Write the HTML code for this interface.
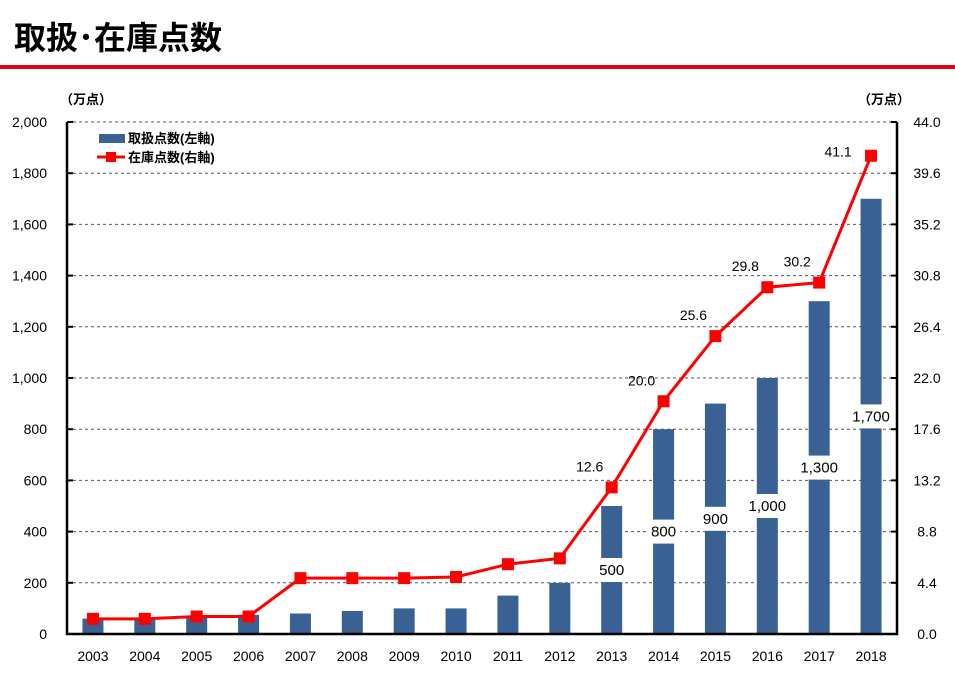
<!DOCTYPE html>
<html><head><meta charset="utf-8"><style>
body{margin:0;background:#fff;}
svg text{font-family:"Liberation Sans","Noto Sans CJK JP",sans-serif;}
</style></head><body>
<svg id="c" width="955" height="682">
<text x="14" y="49" font-size="32" font-weight="bold" fill="#000">取扱･在庫点数</text>
<rect x="0" y="65" width="955" height="4" fill="#e60012"/>
<text x="60" y="104" font-size="13" font-weight="bold">（万点）</text>
<text x="858" y="104" font-size="13" font-weight="bold">（万点）</text>
<g id="grid"></g><g id="bars"></g><g id="line"></g><g id="axes"></g>
<g>
<rect x="99" y="134" width="26" height="9" fill="#3a6193"/>
<text x="128" y="143" font-size="13" font-weight="bold">取扱点数(左軸)</text>
<line x1="97" y1="157" x2="125" y2="157" stroke="#f00" stroke-width="3"/>
<rect x="106" y="152" width="10" height="10" fill="#f00"/>
<text x="128" y="162" font-size="13" font-weight="bold">在庫点数(右軸)</text>
</g>
</svg>
<script>
const years=["2003","2004","2005","2006","2007","2008","2009","2010","2011","2012","2013","2014","2015","2016","2017","2018"];
const handled=[60,60,65,75,80,90,100,100,150,200,500,800,900,1000,1300,1700];
const handledLabels=["","","","","","","","","","","500","800","900","1,000","1,300","1,700"];
const stock=[1.3,1.3,1.5,1.5,4.8,4.8,4.8,4.9,6.0,6.5,12.6,20.0,25.6,29.8,30.2,41.1];
const stockLabels=["","","","","","","","","","","12.6","20.0","25.6","29.8","30.2","41.1"];
const leftTicks=[0,200,400,600,800,1000,1200,1400,1600,1800,2000];
const rightTicks=["0.0","4.4","8.8","13.2","17.6","22.0","26.4","30.8","35.2","39.6","44.0"];
const NS="http://www.w3.org/2000/svg";
const X0=67,X1=897,Y0=634,Y1=122;
const step=(X1-X0)/years.length;
const xc=i=>X0+step*(i+0.5);
const yL=v=>Y0-(v/2000)*(Y0-Y1);
const yR=v=>Y0-(v/44)*(Y0-Y1);
function mk(p,t,a){const e=document.createElementNS(NS,t);for(const k in a)e.setAttribute(k,a[k]);document.getElementById(p).appendChild(e);return e;}
leftTicks.forEach((t,i)=>{
 const y=yL(t);
 if(i>0){const g=mk("grid","line",{x1:X0,x2:X1,y1:y,y2:y,stroke:"#555","stroke-dasharray":"3,3","stroke-width":1});
 
 }
 const a=mk("axes","line",{x1:X0,x2:X0+6,y1:y,y2:y,stroke:"#000","stroke-width":2});
 
 
 const b=mk("axes","line",{x1:X1-6,x2:X1,y1:y,y2:y,stroke:"#000","stroke-width":2});
 
 
 const l=mk("axes","text",{x:47,y:y+5,"font-size":14,"text-anchor":"end"});
 l.textContent=t.toLocaleString("en-US");
 
 
 const r=mk("axes","text",{x:927,y:y+5,"font-size":14,"text-anchor":"middle"});
 r.textContent=rightTicks[i];
 
 
});
const ax=mk("axes","path",{d:`M${X0},${Y1} V${Y0} H${X1} V${Y1}`,fill:"none",stroke:"#000","stroke-width":2.5});


years.forEach((yr,i)=>{
 const x=xc(i),y=yL(handled[i]);
 const r=mk("bars","rect",{x:x-10.5,y:y,width:21,height:Y0-y,fill:"#3a6193"});
 
 
 const t=mk("axes","text",{x:x,y:661,"font-size":14,"text-anchor":"middle"});
 t.textContent=yr;
 
 
 if(handledLabels[i]){
  const my=(y+Y0)/2,w=handledLabels[i].length*8.5+8;
  const bg=mk("bars","rect",{x:x-w/2,y:my-12,width:w,height:24,fill:"#fff"});
  
  
  const lt=mk("bars","text",{x:x,y:my+5,"font-size":15,"text-anchor":"middle"});
  lt.textContent=handledLabels[i];
  
  
 }
});
const pl=mk("line","polyline",{points:stock.map((v,i)=>xc(i)+","+yR(v)).join(" "),fill:"none",stroke:"#f00","stroke-width":3});


stock.forEach((v,i)=>{
 const m=mk("line","rect",{x:xc(i)-6,y:yR(v)-6,width:12,height:12,fill:"#f00"});
 
 
 if(stockLabels[i]){
  const last=i===stock.length-1;
  const t=mk("line","text",{x:xc(i)-(last?33:22),y:yR(v)-(last?-1:16),"font-size":14,"text-anchor":"middle"});
  t.textContent=stockLabels[i];
  
  
 }
});
</script>
</body></html>
